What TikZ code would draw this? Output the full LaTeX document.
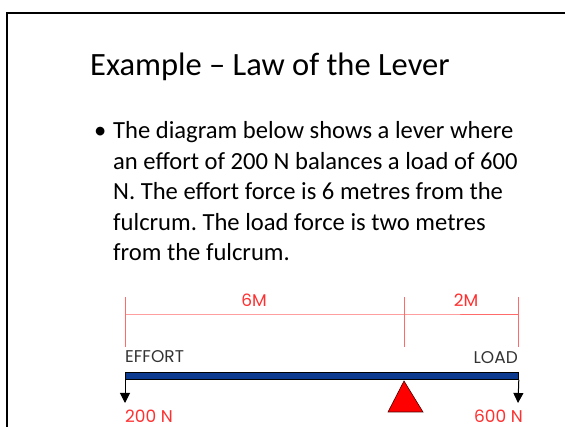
\documentclass[tikz,border=0pt]{standalone}
\usepackage{fontspec}
\setmainfont{Carlito}
\newfontfamily\geofont{Poppins}
\usetikzlibrary{arrows.meta}
\frenchspacing
\definecolor{dimred}{HTML}{FF3030}
\definecolor{dimlinered}{HTML}{FF6A6A}
\definecolor{beamblue}{HTML}{0B3A8F}
\definecolor{labelgray}{HTML}{333333}
\tikzset{
  dimline/.style={draw=dimlinered, line width=0.9pt},
  dimlabel/.style={text=dimred, font=\geofont\fontsize{17}{18}\selectfont, inner sep=0},
  forcelabel/.style={text=labelgray, font=\geofont\fontsize{17}{18}\selectfont, inner sep=0},
  forcearrow/.style={draw=black, line width=1pt, -{Triangle[width=10pt,length=10pt]}},
  bodyline/.style={anchor=base west, inner sep=0, font=\fontsize{24.6}{30}\selectfont},
}
\begin{document}
\begin{tikzpicture}[x=1pt,y=-1pt]
\useasboundingbox (0,0) rectangle (565,427);
% slide frame
\draw[line width=2.2pt] (7,428) -- (7,13) -- (566,13);
% title
\node[anchor=base west, inner sep=0, font=\fontsize{32.5}{40}\selectfont] (title) at (90,76) {Example – Law of the Lever};
% bullet text
\node[bodyline] (bullet) at (94,139) {•};
\node[bodyline] (line1) at (113,139) {The diagram below shows a lever where};
\node[bodyline] (line2) at (113,169.5) {an effort of 200 N balances a load of 600};
\node[bodyline] (line3) at (113,200) {N. The effort force is 6 metres from the};
\node[bodyline] (line4) at (113,230.5) {fulcrum. The load force is two metres};
\node[bodyline] (line5) at (113,261) {from the fulcrum.};
% dimension lines
\coordinate (tl1) at (125,297); \coordinate (tl2) at (125,347);
\coordinate (tm1) at (404,297); \coordinate (tm2) at (404,347);
\coordinate (tr1) at (518,297); \coordinate (tr2) at (518,347);
\coordinate (dl) at (125,314); \coordinate (dm) at (404,314); \coordinate (dr) at (518,314);
\draw[dimline] (tl1) -- (tl2);
\draw[dimline] (tm1) -- (tm2);
\draw[dimline] (tr1) -- (tr2);
\draw[dimline] (dl) -- (dm) -- (dr);
\node[dimlabel] (six) at (254,300) {6M};
\node[dimlabel] (two) at (466,300) {2M};
% labels
\node[forcelabel, anchor=west] (effort) at (125,357) {EFFORT};
\node[forcelabel, anchor=east] (load) at (518,358) {LOAD};
% beam
\node[draw=black, line width=0.8pt, fill=beamblue, minimum width=393pt, minimum height=7pt, inner sep=0, anchor=north west] (beam) at (125,372) {};
% force arrows
\coordinate (efftip) at (125,403);
\coordinate (loadtip) at (518,403);
\draw[forcearrow] (beam.south west) -- (efftip);
\draw[forcearrow] (beam.south east) -- (loadtip);
% fulcrum
\coordinate (fa) at (404,381);
\coordinate (fb) at (423,412);
\coordinate (fc) at (388,412);
\draw[fill=red, draw=black!70!red, line width=0.6pt] (fa) -- (fb) -- (fc) -- cycle;
% force values
\node[dimlabel, anchor=west] (f200) at (125,416) {200 N};
\node[dimlabel, anchor=east] (f600) at (523,416) {600 N};
\end{tikzpicture}
\end{document}
